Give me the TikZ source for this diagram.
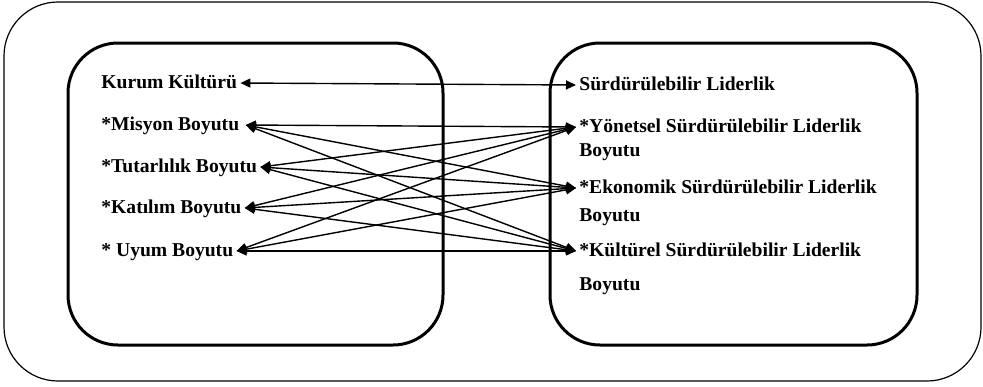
\documentclass[tikz,border=0pt]{standalone}
\usepackage{fontspec}
\setmainfont{Liberation Serif}
\usetikzlibrary{arrows.meta,positioning}

\tikzset{
  panel/.style={draw, line width=1.5pt, rounded corners=25pt},
  lbl/.style={anchor=west, inner sep=1.5pt, text height=7pt, text depth=2pt,
    font=\fontsize{9.8}{11}\selectfont\bfseries},
  link/.style={{Triangle[length=5pt,width=4.5pt]}-{Triangle[length=5pt,width=4.5pt]}, line width=0.7pt},
}

\begin{document}
\begin{tikzpicture}[x=0.5pt,y=-0.5pt]
		%%%%% frames %%%%%
		\useasboundingbox (0,0) rectangle (983,386);
		\draw[line width=0.6pt, rounded corners=27pt] (4,2) rectangle (981,381);
		\draw[panel] (68,43) rectangle (443,345);
		\draw[panel] (550,43) rectangle (917,345);
		
		%%%%% left side %%%%%
		\node[lbl] (kurum) at (98,83) {Kurum Kültürü};
		\node[lbl] (misyon) at (98,125) {*Misyon Boyutu\,};
		\node[lbl] (tutarlilik) at (98,167) {*Tutarlılık Boyutu};
		\node[lbl] (katilim) at (98,208) {*Katılım Boyutu};
		\node[lbl] (uyum) at (98,251) {* Uyum Boyutu};
		
		%%%%% right side %%%%%
		\node[lbl] (liderlik) at (576,85) {Sürdürülebilir Liderlik};
		\node[lbl] (yonetsel) at (576,127) {*Yönetsel Sürdürülebilir Liderlik};
		\node[lbl] (yonetselB) at (576,151) {Boyutu};
		\node[lbl] (ekonomik) at (576,188) {*Ekonomik Sürdürülebilir Liderlik};
		\node[lbl] (ekonomikB) at (576,216) {Boyutu};
		\node[lbl] (kulturel) at (576,251) {*Kültürel Sürdürülebilir Liderlik};
		\node[lbl] (kulturelB) at (576,285) {Boyutu};
		
		%%%%% links %%%%%
		\draw[link] (kurum.east) -- (liderlik.west);
		
		\draw[link] (misyon.east) -- (yonetsel.west);
		\draw[link] (misyon.east) -- (ekonomik.west);
		\draw[link] (misyon.east) -- (kulturel.west);
		
		\draw[link] (tutarlilik.east) -- (yonetsel.west);
		\draw[link] (tutarlilik.east) -- (ekonomik.west);
		\draw[link] (tutarlilik.east) -- (kulturel.west);
		
		\draw[link] (katilim.east) -- (yonetsel.west);
		\draw[link] (katilim.east) -- (ekonomik.west);
		\draw[link] (katilim.east) -- (kulturel.west);
		
		\draw[link] (uyum.east) -- (yonetsel.west);
		\draw[link] (uyum.east) -- (ekonomik.west);
		\draw[link] (uyum.east) -- (kulturel.west);
\end{tikzpicture}
\end{document}
